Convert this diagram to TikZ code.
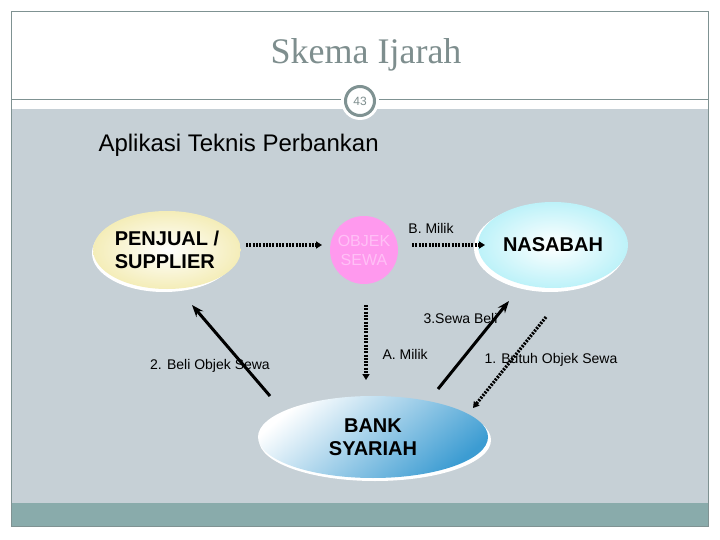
\documentclass[tikz,border=0pt]{standalone}
\usepackage{fontspec}
\setmainfont{Liberation Sans}
\newfontfamily\titlefont{Liberation Serif}
\usetikzlibrary{arrows.meta,shapes.geometric}
\definecolor{bandgray}{HTML}{C6D0D6}
\definecolor{bandteal}{HTML}{89ABAB}
\definecolor{framegray}{HTML}{7F9292}
\definecolor{titlegray}{HTML}{7E8E8E}
\definecolor{pinkobj}{HTML}{FF99EE}
\definecolor{pinktext}{HTML}{FFC0F6}
\definecolor{creamfill}{HTML}{F4EDB8}
\definecolor{cyanfill}{HTML}{BDF2F9}
\definecolor{bluefill}{HTML}{3C9CD2}
\tikzset{
  bigtext/.style={font=\bfseries\fontsize{20}{23}\selectfont, align=left},
  smalltext/.style={font=\fontsize{14}{16}\selectfont},
  solidarrow/.style={line width=3pt, -{Stealth[length=12pt,width=9pt]}},
  dotarrow/.style={line width=3.2pt, dash pattern=on 2pt off 1.3pt, -{Triangle[length=6pt,width=7pt]}},
  rim/.style={fill=white, draw=none}
}
\begin{document}
\begin{tikzpicture}[x=1pt,y=-1pt]
\useasboundingbox (0,0) rectangle (720,540);
\fill[white] (0,0) rectangle (720,540);
\fill[bandgray] (11,109) rectangle (708,503);
\fill[bandteal] (11,503) rectangle (708,526);
\draw[framegray, line width=1pt] (11,12) rectangle (708,526);
\draw[framegray, line width=0.8pt] (11,99) -- (708,99);
\fill[white] (360,101) circle (19);
\node[circle, draw=framegray, line width=3pt, fill=white, minimum size=29pt, inner sep=0pt,
      text=titlegray, font=\fontsize{12}{13}\selectfont] (page) at (360,101) {43};
\node[text=titlegray, font=\titlefont\fontsize{36}{40}\selectfont] (title) at (366,55) {Skema Ijarah};
\node[anchor=west, font=\fontsize{24}{28}\selectfont] (sub) at (95,145) {Aplikasi Teknis Perbankan};

% ellipses
\fill[rim] (164,253) ellipse (72 and 39);
\node[ellipse, minimum width=140pt, minimum height=78pt, inner sep=0pt,
      inner color=white, outer color=creamfill, bigtext] (penjual) at (167,250) {PENJUAL /\\SUPPLIER};
\node[circle, minimum size=68pt, inner sep=0pt, fill=pinkobj, text=pinktext,
      font=\fontsize{16}{19}\selectfont, align=center] (objek) at (364,250) {OBJEK\\SEWA};
\fill[rim] (550,248) ellipse (76 and 44);
\node[ellipse, minimum width=150pt, minimum height=86pt, inner sep=0pt,
      inner color=white, outer color=cyanfill, bigtext] (nasabah) at (553,245) {NASABAH};
\fill[rim] (375,440) ellipse (116 and 41);
\node[ellipse, minimum width=230pt, minimum height=82pt, inner sep=0pt,
      top color=white, bottom color=bluefill, shading angle=40, bigtext, align=center] (bank) at (373,437) {BANK\\SYARIAH};

% connectors
\coordinate (p1) at (246,245);
\coordinate (p2) at (322,245);
\draw[dotarrow] (p1) -- (p2);
\coordinate (o1) at (412,245);
\coordinate (o2) at (485,245);
\draw[dotarrow] (o1) -- (o2);
\node[smalltext] (bmilik) at (431,228) {B. Milik};

\coordinate (b2a) at (270,396);
\coordinate (b2b) at (192,305);
\draw[solidarrow] (b2a) -- (b2b);
\node[smalltext] (beli) at (210,366) {2. Beli Objek Sewa};

\coordinate (am1) at (366,305);
\coordinate (am2) at (366,380);
\draw[dotarrow] (am1) -- (am2);
\node[smalltext, anchor=west] (amilik) at (379,354) {A. Milik};

\coordinate (sb1) at (438,389);
\coordinate (sb2) at (509,301);
\draw[solidarrow] (sb1) -- (sb2);
\node[smalltext, anchor=west] (sewa) at (420,318) {3.Sewa Beli};

\coordinate (bt1) at (546,317);
\coordinate (bt2) at (473,408);
\draw[dotarrow] (bt1) -- (bt2);
\node[smalltext, anchor=west] (butuh) at (481,360) {1. Butuh Objek Sewa};
\end{tikzpicture}
\end{document}
